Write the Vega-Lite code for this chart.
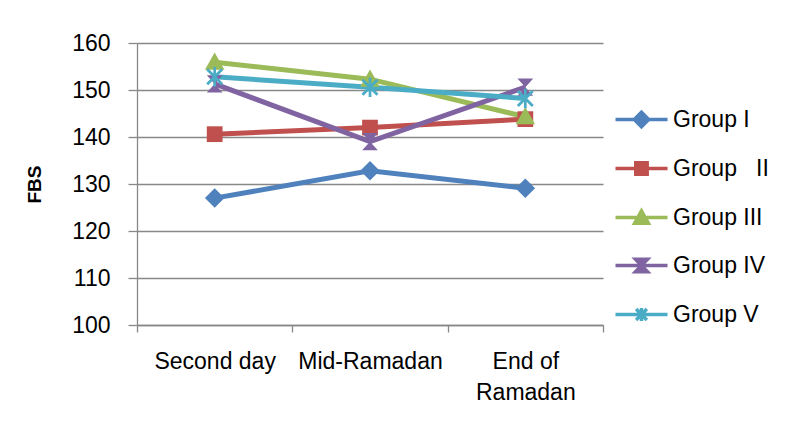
{
  "$schema": "https://vega.github.io/schema/vega-lite/v6.json",
  "width": 466,
  "height": 282,
  "autosize": "none",
  "padding": {"left": 137, "top": 43, "right": 184, "bottom": 100},
  "background": "white",
  "config": {
    "view": {"stroke": null},
    "font": "Liberation Sans",
    "axis": {"labelFont": "Liberation Sans", "titleFont": "Liberation Sans", "labelColor": "#000", "titleColor": "#000", "domainColor": "#888", "tickColor": "#888", "gridColor": "#888", "domainWidth": 1.3, "tickWidth": 1.3, "gridWidth": 1.3},
    "legend": {"labelFont": "Liberation Sans"}
  },
  "data": {
    "values": [
      {"group": "Group I", "time": "Second day", "fbs": 127.0},
      {"group": "Group I", "time": "Mid-Ramadan", "fbs": 132.8},
      {"group": "Group I", "time": "End of Ramadan", "fbs": 129.1},
      {"group": "Group \u00a0 II", "time": "Second day", "fbs": 140.6},
      {"group": "Group \u00a0 II", "time": "Mid-Ramadan", "fbs": 142.0},
      {"group": "Group \u00a0 II", "time": "End of Ramadan", "fbs": 143.8},
      {"group": "Group III", "time": "Second day", "fbs": 155.9},
      {"group": "Group III", "time": "Mid-Ramadan", "fbs": 152.3},
      {"group": "Group III", "time": "End of Ramadan", "fbs": 144.3},
      {"group": "Group IV", "time": "Second day", "fbs": 151.3},
      {"group": "Group IV", "time": "Mid-Ramadan", "fbs": 139.0},
      {"group": "Group IV", "time": "End of Ramadan", "fbs": 150.6},
      {"group": "Group V", "time": "Second day", "fbs": 152.8},
      {"group": "Group V", "time": "Mid-Ramadan", "fbs": 150.6},
      {"group": "Group V", "time": "End of Ramadan", "fbs": 148.2}
    ]
  },
  "transform": [{"calculate": "datum.group", "as": "marker"}],
  "encoding": {
    "x": {
      "field": "time", "type": "nominal", "sort": ["Second day", "Mid-Ramadan", "End of Ramadan"],
      "scale": {"type": "band", "paddingInner": 0, "paddingOuter": 0},
      "axis": {"title": null, "labelAngle": 0, "labelFontSize": 23, "tickBand": "extent", "tickSize": 7, "labelPadding": 18, "grid": false,
        "labelExpr": "datum.value == 'End of Ramadan' ? ['End of', 'Ramadan'] : datum.value", "labelLineHeight": 31}
    },
    "y": {
      "field": "fbs", "type": "quantitative",
      "scale": {"domain": [100, 160], "nice": false, "zero": false},
      "axis": {"title": "FBS", "titleFontSize": 19, "titleFontWeight": "bold", "titlePadding": 27, "labelFontSize": 23, "tickSize": 9, "labelPadding": 18, "values": [100, 110, 120, 130, 140, 150, 160], "grid": true}
    },
    "color": {
      "field": "group", "type": "nominal",
      "sort": ["Group I", "Group \u00a0 II", "Group III", "Group IV", "Group V"],
      "scale": {"domain": ["Group I", "Group \u00a0 II", "Group III", "Group IV", "Group V"], "range": ["#4F81BD", "#C0504D", "#9BBB59", "#8064A2", "#4BACC6"]},
      "legend": {
        "title": null, "orient": "none", "legendX": 473, "legendY": 65,
        "labelFontSize": 23, "labelColor": "#000", "symbolSize": 144, "labelOffset": 40, "rowPadding": 21,
        "symbolOpacity": 1, "symbolStrokeWidth": 3.5,
        "symbolType": {"expr": "['M-1,0L7.67,0M3.33,-1.2L4.53,0L3.33,1.2L2.13,0Z', 'M-1,0L7.67,0M2.38,-0.95L4.28,-0.95L4.28,0.95L2.38,0.95Z', 'M-1,0L7.67,0M3.33,-1.1L4.48,0.95L2.18,0.95Z', 'M-1,0L7.67,0M2.33,-1.05L4.33,-1.05L3.33,0L4.33,1.05L2.33,1.05L3.33,0Z', 'M-1,0L7.67,0M2.43,-0.9L4.23,0.9M4.23,-0.9L2.43,0.9M3.33,-1.1L3.33,1.1'][datum.index]"},
        "symbolFillColor": {"expr": "scale('color', datum.value)"},
        "symbolStrokeColor": {"expr": "scale('color', datum.value)"}
      }
    }
  },
  "layer": [
    {"mark": {"type": "line", "strokeWidth": 5}, "encoding": {"detail": {"field": "group"}}},
    {
      "mark": {"type": "point", "filled": true, "opacity": 1, "size": 225},
      "encoding": {
        "shape": {
          "field": "marker", "type": "nominal", "legend": null,
          "sort": ["Group I", "Group \u00a0 II", "Group III", "Group IV", "Group V"],
          "scale": {"range": ["M0,-1.3L1.3,0L0,1.3L-1.3,0Z", "M-1.05,-1.05L1.05,-1.05L1.05,1.05L-1.05,1.05Z", "M0,-1.3L1.3,1.0L-1.3,1.0Z", "M-1.05,-1.15L1.05,-1.15L0,0L1.05,1.15L-1.05,1.15L0,0Z", "M-0.18,-1.3L0.18,-1.3L0.18,1.3L-0.18,1.3ZM-0.87,-1.13L1.13,0.87L0.87,1.13L-1.13,-0.87ZM1.13,-0.87L-0.87,1.13L-1.13,0.87L0.87,-1.13Z"]}
        }
      }
    }
  ]
}
